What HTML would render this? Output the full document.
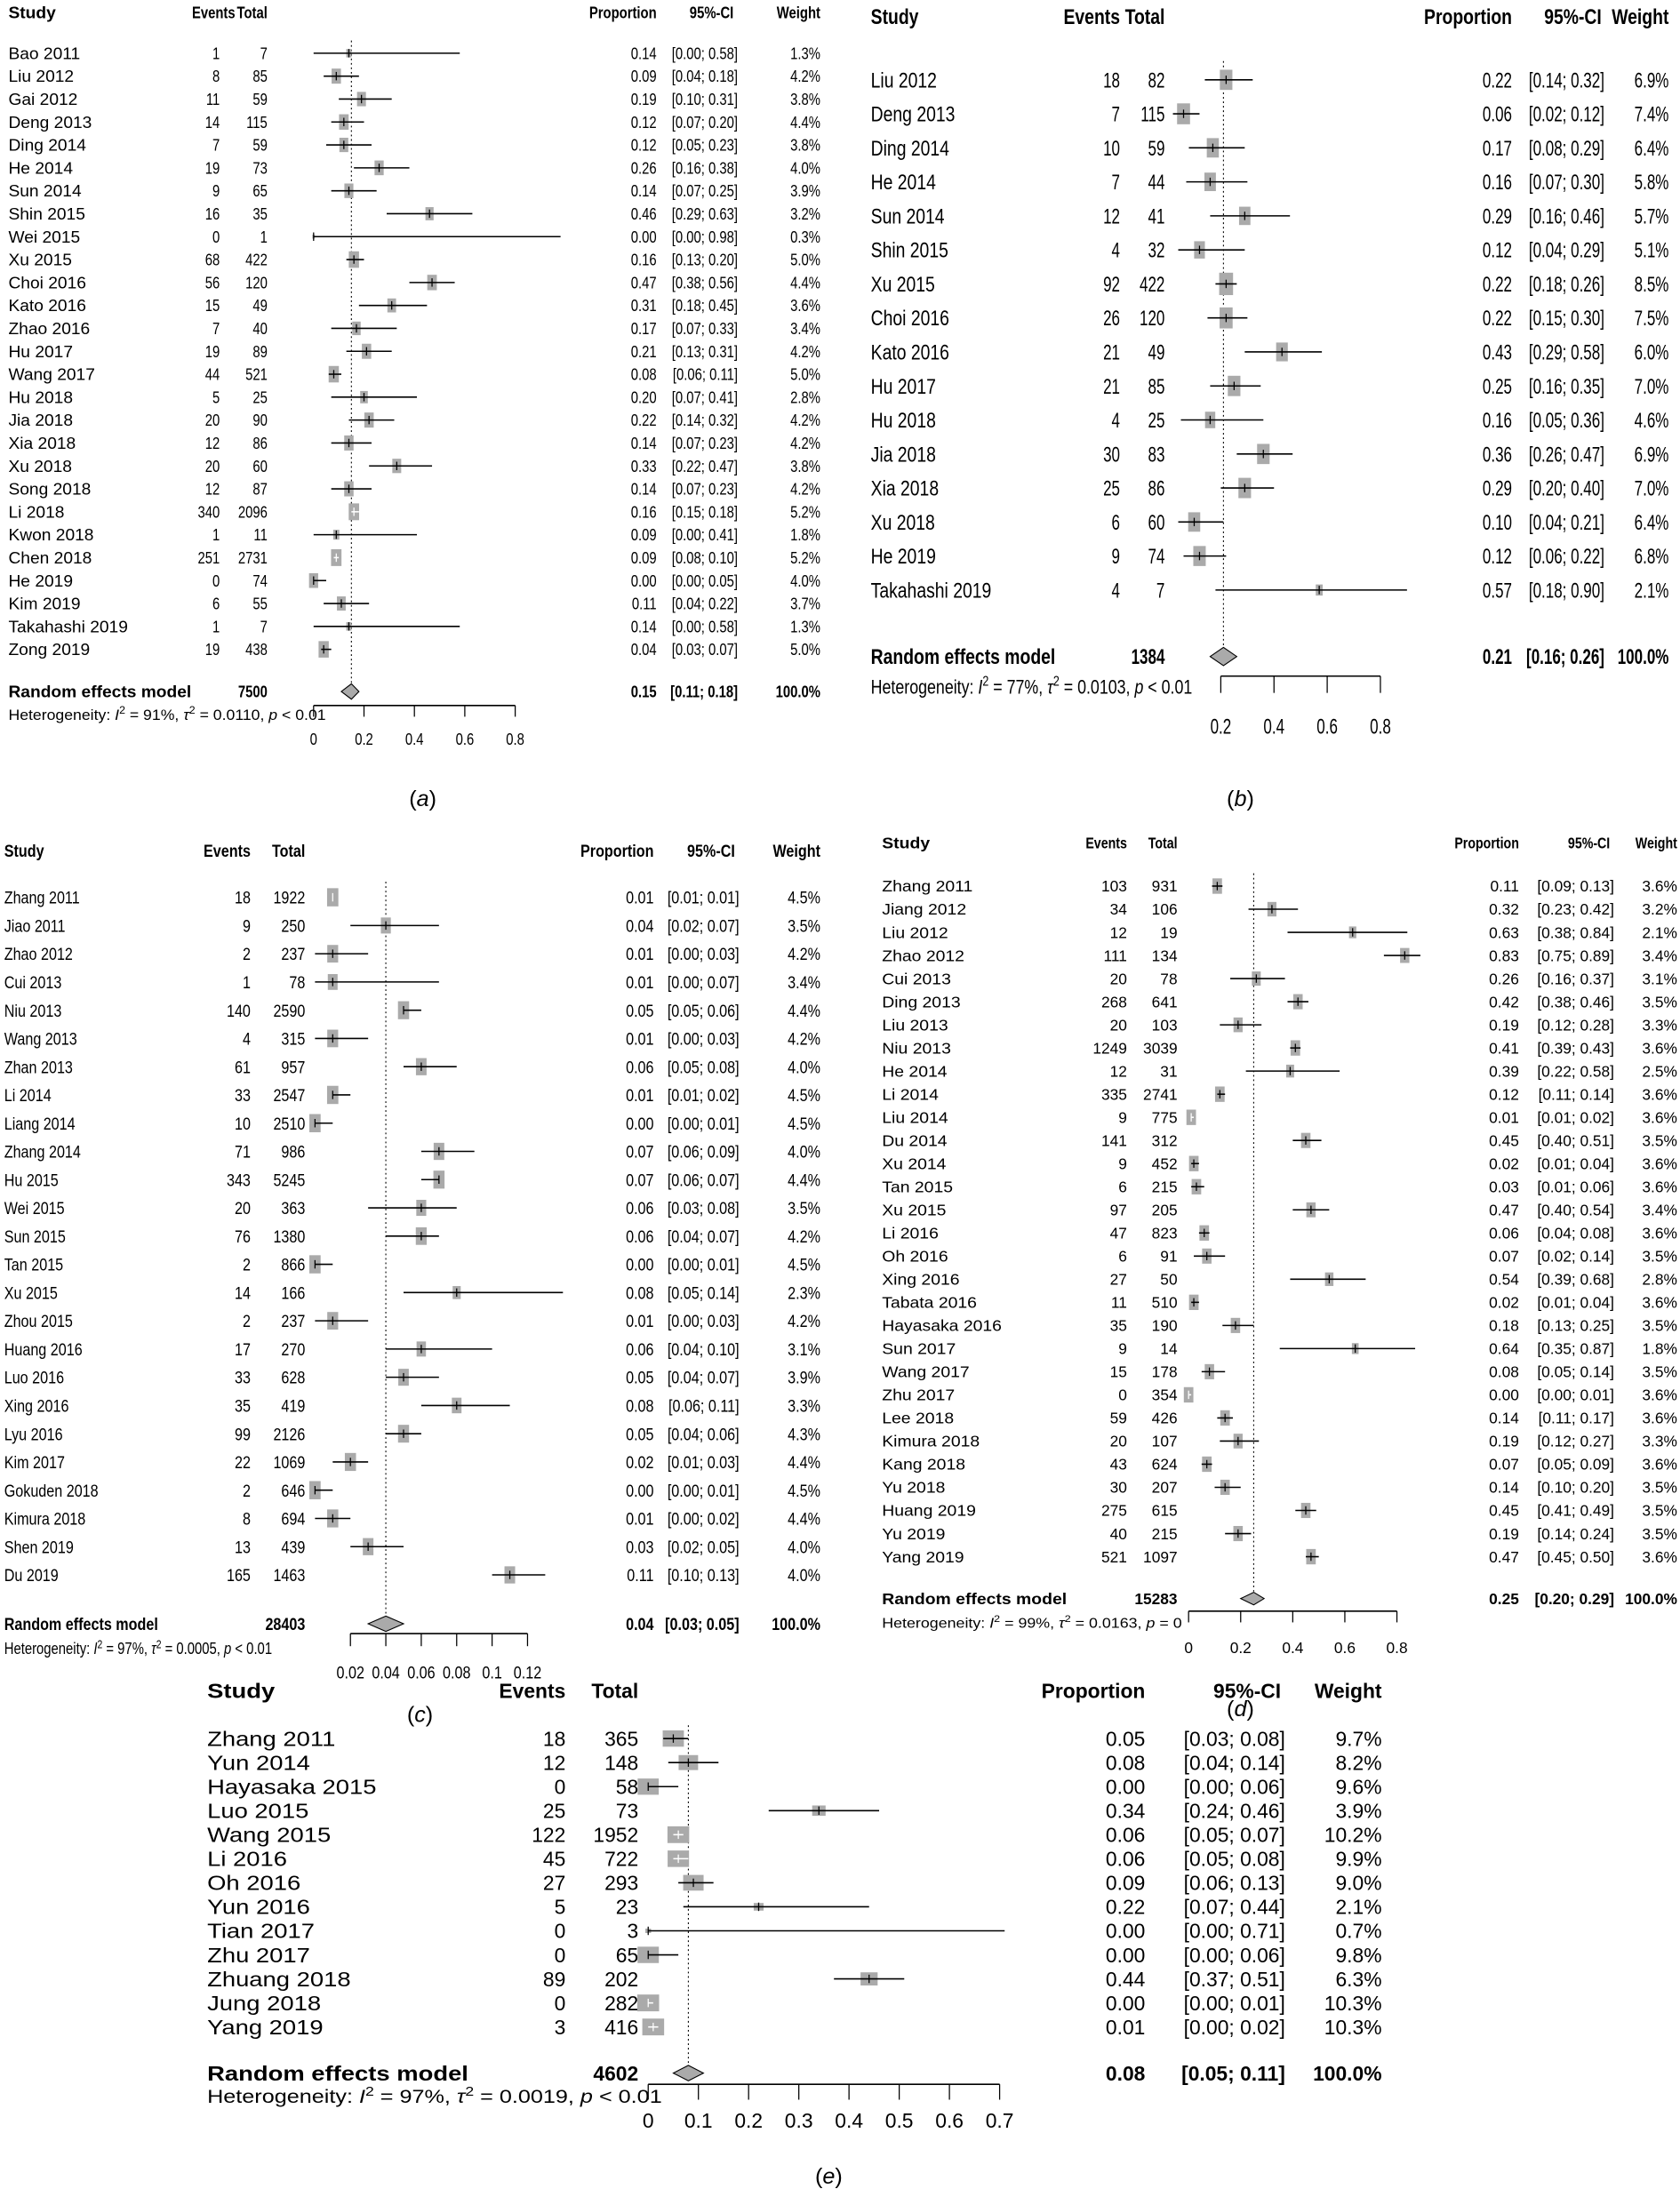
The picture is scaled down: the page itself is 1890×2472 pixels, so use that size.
<!DOCTYPE html>
<html><head><meta charset="utf-8">
<style>
html,body{margin:0;padding:0;background:#fff;}
svg{display:block;}
text{font-family:"Liberation Sans",Arial,sans-serif;fill:#000;}
</style></head>
<body>
<svg id="fig" width="1890" height="2472" viewBox="0 0 1200 1569.5" xmlns="http://www.w3.org/2000/svg"></svg>
<script>
// ---------- Panel A data ----------
const aNames=["Bao 2011","Liu 2012","Gai 2012","Deng 2013","Ding 2014","He 2014","Sun 2014","Shin 2015","Wei 2015","Xu 2015","Choi 2016","Kato 2016","Zhao 2016","Hu 2017","Wang 2017","Hu 2018","Jia 2018","Xia 2018","Xu 2018","Song 2018","Li 2018","Kwon 2018","Chen 2018","He 2019","Kim 2019","Takahashi 2019","Zong 2019"];
const aEvents=[1,8,11,14,7,19,9,16,0,68,56,15,7,19,44,5,20,12,20,12,340,1,251,0,6,1,19];
const aTotals=[7,85,59,115,59,73,65,35,1,422,120,49,40,89,521,25,90,86,60,87,2096,11,2731,74,55,7,438];
const aProps=[0.14,0.09,0.19,0.12,0.12,0.26,0.14,0.46,0.00,0.16,0.47,0.31,0.17,0.21,0.08,0.20,0.22,0.14,0.33,0.14,0.16,0.09,0.09,0.00,0.11,0.14,0.04];
const aLo=[0.00,0.04,0.10,0.07,0.05,0.16,0.07,0.29,0.00,0.13,0.38,0.18,0.07,0.13,0.06,0.07,0.14,0.07,0.22,0.07,0.15,0.00,0.08,0.00,0.04,0.00,0.03];
const aHi=[0.58,0.18,0.31,0.20,0.23,0.38,0.25,0.63,0.98,0.20,0.56,0.45,0.33,0.31,0.11,0.41,0.32,0.23,0.47,0.23,0.18,0.41,0.10,0.05,0.22,0.58,0.07];
const aWeights=[1.3,4.2,3.8,4.4,3.8,4.0,3.9,3.2,0.3,5.0,4.4,3.6,3.4,4.2,5.0,2.8,4.2,4.2,3.8,4.2,5.2,1.8,5.2,4.0,3.7,1.3,5.0];
const aSummary=[7500,0.15,0.11,0.18];
const aTicks=[0,0.2,0.4,0.6,0.8];
const aTickLabels=["0","0.2","0.4","0.6","0.8"];

// ---------- Panel B data ----------
const bNames=["Liu 2012","Deng 2013","Ding 2014","He 2014","Sun 2014","Shin 2015","Xu 2015","Choi 2016","Kato 2016","Hu 2017","Hu 2018","Jia 2018","Xia 2018","Xu 2018","He 2019","Takahashi 2019"];
const bEvents=[18,7,10,7,12,4,92,26,21,21,4,30,25,6,9,4];
const bTotals=[82,115,59,44,41,32,422,120,49,85,25,83,86,60,74,7];
const bProps=[0.22,0.06,0.17,0.16,0.29,0.12,0.22,0.22,0.43,0.25,0.16,0.36,0.29,0.10,0.12,0.57];
const bLo=[0.14,0.02,0.08,0.07,0.16,0.04,0.18,0.15,0.29,0.16,0.05,0.26,0.20,0.04,0.06,0.18];
const bHi=[0.32,0.12,0.29,0.30,0.46,0.29,0.26,0.30,0.58,0.35,0.36,0.47,0.40,0.21,0.22,0.90];
const bWeights=[6.9,7.4,6.4,5.8,5.7,5.1,8.5,7.5,6.0,7.0,4.6,6.9,7.0,6.4,6.8,2.1];
const bSummary=[1384,0.21,0.16,0.26];
const bTicks=[0.2,0.4,0.6,0.8];
const bTickLabels=["0.2","0.4","0.6","0.8"];

// ---------- Panel C data ----------
const cNames=["Zhang 2011","Jiao 2011","Zhao 2012","Cui 2013","Niu 2013","Wang 2013","Zhan 2013","Li 2014","Liang 2014","Zhang 2014","Hu 2015","Wei 2015","Sun 2015","Tan 2015","Xu 2015","Zhou 2015","Huang 2016","Luo 2016","Xing 2016","Lyu 2016","Kim 2017","Gokuden 2018","Kimura 2018","Shen 2019","Du 2019"];
const cEvents=[18,9,2,1,140,4,61,33,10,71,343,20,76,2,14,2,17,33,35,99,22,2,8,13,165];
const cTotals=[1922,250,237,78,2590,315,957,2547,2510,986,5245,363,1380,866,166,237,270,628,419,2126,1069,646,694,439,1463];
const cProps=[0.01,0.04,0.01,0.01,0.05,0.01,0.06,0.01,0.00,0.07,0.07,0.06,0.06,0.00,0.08,0.01,0.06,0.05,0.08,0.05,0.02,0.00,0.01,0.03,0.11];
const cLo=[0.01,0.02,0.00,0.00,0.05,0.00,0.05,0.01,0.00,0.06,0.06,0.03,0.04,0.00,0.05,0.00,0.04,0.04,0.06,0.04,0.01,0.00,0.00,0.02,0.10];
const cHi=[0.01,0.07,0.03,0.07,0.06,0.03,0.08,0.02,0.01,0.09,0.07,0.08,0.07,0.01,0.14,0.03,0.10,0.07,0.11,0.06,0.03,0.01,0.02,0.05,0.13];
const cWeights=[4.5,3.5,4.2,3.4,4.4,4.2,4.0,4.5,4.5,4.0,4.4,3.5,4.2,4.5,2.3,4.2,3.1,3.9,3.3,4.3,4.4,4.5,4.4,4.0,4.0];
const cSummary=[28403,0.04,0.03,0.05];
const cTicks=[0.02,0.04,0.06,0.08,0.1,0.12];
const cTickLabels=["0.02","0.04","0.06","0.08","0.1","0.12"];

// ---------- Panel D data ----------
const dNames=["Zhang 2011","Jiang 2012","Liu 2012","Zhao 2012","Cui 2013","Ding 2013","Liu 2013","Niu 2013","He 2014","Li 2014","Liu 2014","Du 2014","Xu 2014","Tan 2015","Xu 2015","Li 2016","Oh 2016","Xing 2016","Tabata 2016","Hayasaka 2016","Sun 2017","Wang 2017","Zhu 2017","Lee 2018","Kimura 2018","Kang 2018","Yu 2018","Huang 2019","Yu 2019","Yang 2019"];
const dEvents=[103,34,12,111,20,268,20,1249,12,335,9,141,9,6,97,47,6,27,11,35,9,15,0,59,20,43,30,275,40,521];
const dTotals=[931,106,19,134,78,641,103,3039,31,2741,775,312,452,215,205,823,91,50,510,190,14,178,354,426,107,624,207,615,215,1097];
const dProps=[0.11,0.32,0.63,0.83,0.26,0.42,0.19,0.41,0.39,0.12,0.01,0.45,0.02,0.03,0.47,0.06,0.07,0.54,0.02,0.18,0.64,0.08,0.00,0.14,0.19,0.07,0.14,0.45,0.19,0.47];
const dLo=[0.09,0.23,0.38,0.75,0.16,0.38,0.12,0.39,0.22,0.11,0.01,0.40,0.01,0.01,0.40,0.04,0.02,0.39,0.01,0.13,0.35,0.05,0.00,0.11,0.12,0.05,0.10,0.41,0.14,0.45];
const dHi=[0.13,0.42,0.84,0.89,0.37,0.46,0.28,0.43,0.58,0.14,0.02,0.51,0.04,0.06,0.54,0.08,0.14,0.68,0.04,0.25,0.87,0.14,0.01,0.17,0.27,0.09,0.20,0.49,0.24,0.50];
const dWeights=[3.6,3.2,2.1,3.4,3.1,3.5,3.3,3.6,2.5,3.6,3.6,3.5,3.6,3.6,3.4,3.6,3.5,2.8,3.6,3.5,1.8,3.5,3.6,3.6,3.3,3.6,3.5,3.5,3.5,3.6];
const dSummary=[15283,0.25,0.20,0.29];
const dTicks=[0,0.2,0.4,0.6,0.8];
const dTickLabels=["0","0.2","0.4","0.6","0.8"];

// ---------- Panel E data ----------
const eNames=["Zhang 2011","Yun 2014","Hayasaka 2015","Luo 2015","Wang 2015","Li 2016","Oh 2016","Yun 2016","Tian 2017","Zhu 2017","Zhuang 2018","Jung 2018","Yang 2019"];
const eEvents=[18,12,0,25,122,45,27,5,0,0,89,0,3];
const eTotals=[365,148,58,73,1952,722,293,23,3,65,202,282,416];
const eProps=[0.05,0.08,0.00,0.34,0.06,0.06,0.09,0.22,0.00,0.00,0.44,0.00,0.01];
const eLo=[0.03,0.04,0.00,0.24,0.05,0.05,0.06,0.07,0.00,0.00,0.37,0.00,0.00];
const eHi=[0.08,0.14,0.06,0.46,0.07,0.08,0.13,0.44,0.71,0.06,0.51,0.01,0.02];
const eWeights=[9.7,8.2,9.6,3.9,10.2,9.9,9.0,2.1,0.7,9.8,6.3,10.3,10.3];
const eSummary=[4602,0.08,0.05,0.11];
const eTicks=[0,0.1,0.2,0.3,0.4,0.5,0.6,0.7];
const eTickLabels=["0","0.1","0.2","0.3","0.4","0.5","0.6","0.7"];

const svg=document.getElementById('fig');
const NS="http://www.w3.org/2000/svg";

function mk(tag,attrs,parent){
  const el=document.createElementNS(NS,tag);
  for(const k in attrs) el.setAttribute(k,attrs[k]);
  (parent||svg).appendChild(el);
  return el;
}
function txt(parent,x,y,str,L,opt,name){
  const sx=opt.sx||L.sx;
  const g=mk('g',{transform:`translate(${x},${y}) scale(${sx},1)`},parent);
  const t=mk('text',{x:0,y:0,'font-size':opt.size||L.font,'text-anchor':opt.anchor||'start'},g);
  if(opt.bold) t.setAttribute('font-weight','bold');
  if(opt.italic) t.setAttribute('font-style','italic');
  if(opt.html) t.innerHTML=str; else t.textContent=str;
  
  
  return t;
}
function f2(v){return v.toFixed(2);}

function panel(id,L,names,events,totals,props,lo,hi,weights,summary,ticks,tickLabels,het){
  const g=mk('g',{});
  
  
  const X=v=>L.x0+v*L.k;
  const Y=i=>L.row0+i*L.step;
  const off=L.font*0.36;
  // header
  txt(g,L.study,L.head,"Study",L,{bold:1,sx:L.tsx},'header-study');
  txt(g,L.evR+L.evHd,L.head,"Events",L,{bold:1,anchor:'end'},'header-events');
  txt(g,L.totR,L.head,"Total",L,{bold:1,anchor:'end'},'header-total');
  txt(g,L.propR,L.head,"Proportion",L,{bold:1,anchor:'end'},'header-proportion');
  txt(g,L.ciR-L.ciHd,L.head,"95%-CI",L,{bold:1,anchor:'end'},'header-ci');
  txt(g,L.wR,L.head,"Weight",L,{bold:1,anchor:'end'},'header-weight');
  // dotted summary line
  const ln=mk('line',{x1:X(summary[1]),x2:X(summary[1]),y1:Y(0)-L.step*0.55,y2:L.sumY-5,stroke:'#000','stroke-width':0.7,'stroke-dasharray':'1.2,2'},g);
  
  
  const wmax=Math.max(...weights);
  for(let i=0;i<names.length;i++){
    const y=Y(i);
    txt(g,L.study,y+off,names[i],L,{sx:L.tsx},'study-name');
    txt(g,L.evR,y+off,String(events[i]),L,{anchor:'end',sx:L.nsx},'study-events');
    txt(g,L.totR,y+off,String(totals[i]),L,{anchor:'end',sx:L.nsx},'study-total');
    txt(g,L.propR,y+off,f2(props[i]),L,{anchor:'end',sx:L.nsx},'study-proportion');
    txt(g,L.ciR,y+off,'['+f2(lo[i])+'; '+f2(hi[i])+']',L,{anchor:'end',sx:L.nsx},'study-ci');
    txt(g,L.wR,y+off,weights[i].toFixed(1)+'%',L,{anchor:'end',sx:L.nsx},'study-weight');
    const h=L.box*Math.sqrt(weights[i]/wmax), w=h*L.asp;
    const cx=X(props[i]);
    const r=mk('rect',{x:cx-w/2,y:y-h/2,width:w,height:h,fill:'#aaaaaa'},g);
    
    
    const inside=(X(lo[i])>=cx-w/2&&X(hi[i])<=cx+w/2);
    const col=inside?'#fff':'#000';
    const ci=mk('line',{x1:X(lo[i]),x2:X(hi[i]),y1:y,y2:y,stroke:col,'stroke-width':1},g);
    
    
    const tk=mk('line',{x1:cx,x2:cx,y1:y-3,y2:y+3,stroke:col,'stroke-width':0.8},g);
    
    
  }
  // summary
  const sy=L.sumY;
  txt(g,L.study,sy+off,"Random effects model",L,{bold:1,sx:L.tsx},'summary-label');
  txt(g,L.totR,sy+off,String(summary[0]),L,{bold:1,anchor:'end',sx:L.nsx},'summary-total');
  txt(g,L.propR,sy+off,f2(summary[1]),L,{bold:1,anchor:'end',sx:L.nsx},'summary-proportion');
  txt(g,L.ciR,sy+off,'['+f2(summary[2])+'; '+f2(summary[3])+']',L,{bold:1,anchor:'end',sx:L.nsx},'summary-ci');
  txt(g,L.wR,sy+off,'100.0%',L,{bold:1,anchor:'end',sx:L.nsx},'summary-weight');
  const dh=L.dia;
  const dm=mk('polygon',{points:`${X(summary[2])},${sy} ${X(summary[1])},${sy-dh} ${X(summary[3])},${sy} ${X(summary[1])},${sy+dh}`,fill:'#aaaaaa',stroke:'#000','stroke-width':0.7},g);
  
  
  txt(g,L.study,L.hetY+off,het,L,{html:1,size:L.font*0.92,sx:L.tsx},'heterogeneity-text');
  // axis
  const ax=mk('line',{x1:X(ticks[0]),x2:X(ticks[ticks.length-1]),y1:L.axY,y2:L.axY,stroke:'#000','stroke-width':1},g);
  
  
  for(let j=0;j<ticks.length;j++){
    const t=mk('line',{x1:X(ticks[j]),x2:X(ticks[j]),y1:L.axY,y2:L.axY+L.tickLen,stroke:'#000','stroke-width':0.8},g);
    
    
    txt(g,X(ticks[j]),L.tlY,tickLabels[j],L,{anchor:'middle',sx:L.nsx},'x-tick-label');
  }
  txt(g,L.capX,L.capY,'(<tspan font-style="italic">'+id+'</tspan>)',{sx:1,font:L.capSize},{html:1,anchor:'middle'},'panel-caption');
}
function hetStr(i2,tau,p){
  return 'Heterogeneity: <tspan font-style="italic">I</tspan><tspan baseline-shift="super" font-size="70%">2</tspan> = '+i2+', <tspan font-style="italic">τ</tspan><tspan baseline-shift="super" font-size="70%">2</tspan> = '+tau+', <tspan font-style="italic">p</tspan> '+p;
}

panel('a',{sx:0.82,tsx:1.06,nsx:0.82,font:11.5,head:13,row0:38,step:16.38,sumY:494,hetY:510,axY:504,tickLen:8,tlY:532,x0:224,k:180,study:6,evR:157,evHd:11,totR:191,propR:469,ciR:527,ciHd:3,wR:586,box:12,asp:0.62,dia:5.5,capX:302,capY:576,capSize:16},
  aNames,aEvents,aTotals,aProps,aLo,aHi,aWeights,aSummary,aTicks,aTickLabels,hetStr('91%','0.0110','&lt; 0.01'));
panel('b',{sx:0.82,tsx:0.82,nsx:0.72,font:15,head:17,row0:57,step:24.3,sumY:469,hetY:490,axY:483,tickLen:12,tlY:524,x0:834,k:190,study:622,evR:800,evHd:0,totR:832,propR:1080,ciR:1146,ciHd:2,wR:1192,box:16,asp:0.62,dia:6.5,capX:886,capY:576,capSize:16},
  bNames,bEvents,bTotals,bProps,bLo,bHi,bWeights,bSummary,bTicks,bTickLabels,hetStr('77%','0.0103','&lt; 0.01'));
panel('c',{sx:0.82,tsx:0.82,nsx:0.82,font:12.5,head:612,row0:641,step:20.17,sumY:1160,hetY:1177,axY:1167,tickLen:9,tlY:1199,x0:225,k:1265,study:3,evR:179,evHd:0,totR:218,propR:467,ciR:528,ciHd:3,wR:586,box:13,asp:0.62,dia:5.5,capX:300,capY:1230,capSize:16},
  cNames,cEvents,cTotals,cProps,cLo,cHi,cWeights,cSummary,cTicks,cTickLabels,hetStr('97%','0.0005','&lt; 0.01'));
panel('d',{sx:0.82,tsx:1.12,nsx:1.0,font:11,head:606,row0:633,step:16.52,sumY:1142,hetY:1159,axY:1151,tickLen:8,tlY:1181,x0:849,k:186,study:630,evR:805,evHd:0,totR:841,propR:1085,ciR:1153,ciHd:3,wR:1198,box:11,asp:0.62,dia:4.5,capX:886,capY:1226,capSize:16},
  dNames,dEvents,dTotals,dProps,dLo,dHi,dWeights,dSummary,dTicks,dTickLabels,hetStr('99%','0.0163','= 0'));
panel('e',{sx:1,tsx:1.2,nsx:1,font:14.5,head:1213,row0:1242,step:17.17,sumY:1481,hetY:1497,axY:1489,tickLen:11,tlY:1520,x0:463,k:358.6,study:148,evR:404,evHd:0,totR:456,propR:818,ciR:918,ciHd:3,wR:987,box:12,asp:1.3,dia:5.5,capX:592,capY:1560,capSize:16},
  eNames,eEvents,eTotals,eProps,eLo,eHi,eWeights,eSummary,eTicks,eTickLabels,hetStr('97%','0.0019','&lt; 0.01'));
</script>
</body></html>
